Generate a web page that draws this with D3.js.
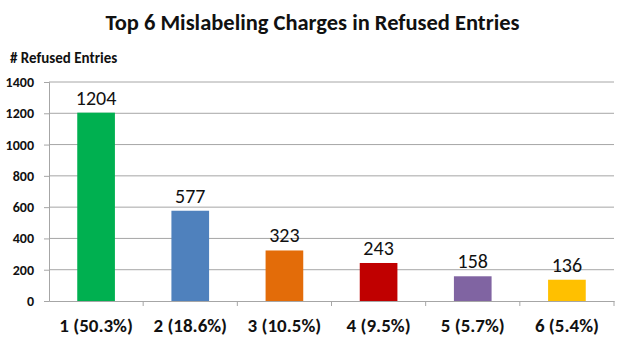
<!DOCTYPE html>
<html>
<head>
<meta charset="utf-8">
<script src="https://cdn.jsdelivr.net/npm/d3@7"></script>
<style>
  body { margin: 0; background: #fff; }
  svg { display: block; font-family: Carlito, "Open Sans", "Liberation Sans", sans-serif; }
</style>
</head>
<body>
<div id="chart"></div>
<script>
// 数据
const categories = ["1 (50.3%)", "2 (18.6%)", "3 (10.5%)", "4 (9.5%)", "5 (5.7%)", "6 (5.4%)"];
const refused = [1204, 577, 323, 243, 158, 136];
const barColors = ["#00b050", "#4f81bd", "#e36c09", "#c00000", "#8064a2", "#ffc000"];
const yTicks = [0, 200, 400, 600, 800, 1000, 1200, 1400];

const width = 623, height = 352;
const margin = {top: 82, right: 9, bottom: 51, left: 49};
const fontFam = 'Carlito, "Open Sans", "Liberation Sans", sans-serif';

const svg = d3.select('#chart')
    .append('svg')
    .attr('width', width)
    .attr('height', height);

const x = d3.scaleBand()
    .domain(categories)
    .range([margin.left, width - margin.right])
    .paddingInner(0.6)
    .paddingOuter(0.3);

const xTickScale = d3.scaleBand()
    .domain(categories)
    .range([margin.left, width - margin.right]);

const y = d3.scaleLinear()
    .domain([0, 1400])
    .range([height - margin.bottom, margin.top]);

// 标题
svg.append('text')
    .attr('x', width / 2 + 1)
    .attr('y', 30)
    .attr('text-anchor', 'middle')
    .style('font-size', '22.5px')
    .style('font-weight', 'bold')
    .attr('fill', '#111')
    .text('Top 6 Mislabeling Charges in Refused Entries');

svg.append('text')
    .attr('x', 10)
    .attr('y', 63)
    .style('font-size', '15px')
    .style('font-weight', 'bold')
    .attr('fill', '#111')
    .text('# Refused Entries');

// 网格线 + y轴
const yAxis = svg.append('g')
    .attr('transform', `translate(${margin.left},0)`)
    .call(d3.axisLeft(y).tickValues(yTicks).tickFormat(d3.format('d')).tickSize(5).tickPadding(10));
yAxis.select('.domain').attr('stroke', '#a6a6a6');
yAxis.selectAll('line').attr('stroke', '#a6a6a6');
yAxis.selectAll('text')
    .attr('fill', '#111')
    .style('font-size', '14px')
    .style('font-weight', 'bold')
    .style('font-family', fontFam);

svg.append('g')
    .selectAll('line')
    .data(yTicks.filter(d => d > 0))
    .join('line')
    .attr('x1', margin.left)
    .attr('x2', width - margin.right)
    .attr('y1', d => y(d))
    .attr('y2', d => y(d))
    .attr('stroke', '#a6a6a6');

// x轴
const xAxis = svg.append('g')
    .attr('transform', `translate(0,${y(0)})`)
    .call(d3.axisBottom(xTickScale).tickSize(0).tickPadding(18));
xAxis.select('.domain').attr('stroke', '#a6a6a6');
xAxis.selectAll('text')
    .attr('fill', '#111')
    .style('font-size', '19px')
    .style('font-weight', 'bold')
    .style('font-family', fontFam);

// 类别分隔刻度
svg.append('g')
    .selectAll('line')
    .data(categories)
    .join('line')
    .attr('x1', d => xTickScale(d) + xTickScale.bandwidth())
    .attr('x2', d => xTickScale(d) + xTickScale.bandwidth())
    .attr('y1', y(0))
    .attr('y2', y(0) + 5)
    .attr('stroke', '#a6a6a6');

// 柱子
svg.append('g')
    .selectAll('rect')
    .data(refused)
    .join('rect')
    .attr('x', (d, i) => x(categories[i]))
    .attr('y', d => y(d))
    .attr('width', x.bandwidth())
    .attr('height', d => y(0) - y(d))
    .attr('fill', (d, i) => barColors[i]);

// 数值标签
svg.append('g')
    .selectAll('text')
    .data(refused)
    .join('text')
    .attr('x', (d, i) => x(categories[i]) + x.bandwidth() / 2)
    .attr('y', d => y(d) - 8)
    .attr('text-anchor', 'middle')
    .attr('fill', '#111')
    .style('font-size', '20px')
    .text(d => d);
</script>
</body>
</html>
